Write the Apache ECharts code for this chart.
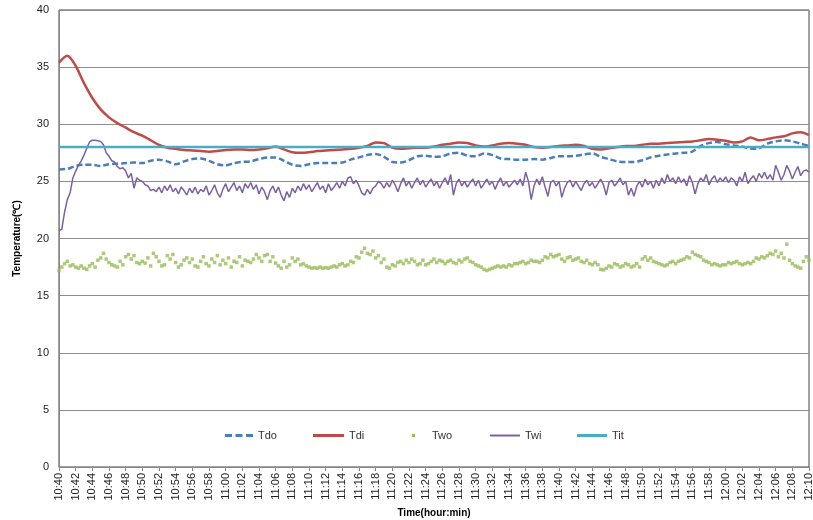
<!DOCTYPE html>
<html>
<head>
<meta charset="utf-8">
<script src="https://cdn.jsdelivr.net/npm/echarts@6/dist/echarts.min.js"></script>
<style>
html,body{margin:0;padding:0;background:#fff;}
#chart{width:813px;height:520px;}
</style>
</head>
<body>
<div id="chart"></div>
<script>
// x tick labels, every 2 minutes
const tickLabels = ['10:40','10:42','10:44','10:46','10:48','10:50','10:52','10:54','10:56','10:58',
  '11:00','11:02','11:04','11:06','11:08','11:10','11:12','11:14','11:16','11:18',
  '11:20','11:22','11:24','11:26','11:28','11:30','11:32','11:34','11:36','11:38',
  '11:40','11:42','11:44','11:46','11:48','11:50','11:52','11:54','11:56','11:58',
  '12:00','12:02','12:04','12:06','12:08','12:10'];

// sampling steps (minutes after 10:40)
const stepSmooth = 1;      // Tdo, Tdi
const stepNoisy = 1 / 3;   // Twi, Two (20 s)

// Tdi, one value per minute
const tdi = [35.4,36.0,35.1,33.6,32.3,31.3,30.6,30.1,29.7,29.3,
  29.0,28.6,28.2,27.95,27.85,27.75,27.7,27.65,27.6,27.65,
  27.75,27.8,27.8,27.75,27.8,27.9,28.05,27.8,27.55,27.5,
  27.55,27.65,27.7,27.75,27.8,27.85,27.95,28.1,28.4,28.35,
  27.95,27.85,27.9,27.95,27.95,28.05,28.2,28.3,28.4,28.35,
  28.15,28.05,28.15,28.3,28.35,28.3,28.2,28.0,27.95,28.0,
  28.1,28.15,28.2,28.1,27.85,27.8,27.9,28.0,28.1,28.1,
  28.2,28.3,28.3,28.35,28.4,28.45,28.5,28.6,28.7,28.65,
  28.55,28.4,28.5,28.85,28.6,28.7,28.85,28.95,29.2,29.3,
  29.05];

// Tdo, one value per minute
const tdo = [26.05,26.1,26.35,26.45,26.45,26.35,26.5,26.55,26.6,26.65,
  26.6,26.8,26.9,26.75,26.5,26.75,26.95,27.0,26.8,26.5,
  26.4,26.6,26.7,26.75,26.95,27.1,27.1,26.8,26.45,26.35,
  26.5,26.6,26.6,26.6,26.65,26.9,27.1,27.3,27.4,27.15,
  26.7,26.65,26.85,27.2,27.25,27.15,27.2,27.45,27.5,27.25,
  27.2,27.45,27.3,27.0,26.95,26.9,26.9,26.95,26.9,27.05,
  27.2,27.2,27.25,27.35,27.45,27.15,26.95,26.75,26.7,26.7,
  26.85,27.1,27.25,27.35,27.45,27.5,27.6,28.1,28.35,28.45,
  28.25,28.15,28.05,27.85,27.9,28.3,28.5,28.6,28.5,28.3,
  28.1];

// Twi, one value per 20 s
const twi = [20.7,20.8,22.3,23.4,24.0,25.3,25.9,26.4,26.8,27.3,27.9,28.45,28.6,28.6,28.55,
  28.5,28.2,27.5,27.2,26.8,26.7,26.3,26.1,26.2,25.9,25.3,25.7,24.4,25.3,25.1,
  25.0,24.7,24.6,24.2,24.3,24.1,24.5,24.0,24.6,24.2,24.7,24.1,24.4,23.9,24.5,
  24.2,23.8,24.4,24.0,24.5,23.9,24.3,24.1,24.6,23.8,24.2,24.7,24.0,23.6,24.3,
  24.8,24.1,24.5,24.9,24.2,24.6,24.0,24.8,24.4,24.9,24.3,24.7,23.9,24.5,24.1,
  23.4,24.2,24.6,24.0,24.5,23.8,23.3,24.1,23.6,24.4,24.0,24.6,24.2,24.8,24.3,
  24.7,24.1,24.5,24.9,24.3,24.6,24.0,24.8,24.2,24.5,24.9,24.4,25.0,24.6,25.3,
  25.4,24.8,25.1,24.6,24.0,23.8,24.3,23.9,24.4,24.6,25.0,24.8,24.4,24.9,24.5,
  25.1,24.7,24.1,24.8,25.3,24.6,25.0,24.4,24.9,25.3,24.7,25.1,24.5,24.9,25.2,
  24.6,25.0,24.4,24.9,25.3,24.7,25.6,23.8,24.8,25.2,24.6,25.0,24.5,24.9,25.2,
  24.6,25.1,24.4,24.8,25.2,24.7,25.0,24.3,24.9,25.3,24.6,25.0,24.5,24.8,25.1,
  24.7,25.2,24.6,25.8,25.0,23.4,24.6,25.2,24.7,25.4,24.5,23.7,24.9,25.1,24.6,
  25.0,23.6,24.4,24.9,25.1,24.5,25.0,24.6,24.2,24.8,25.1,24.6,24.9,24.4,24.8,
  25.2,24.7,23.8,24.9,25.1,24.6,24.9,25.3,24.7,25.0,23.8,24.4,23.7,24.6,25.0,
  24.5,25.2,24.7,25.0,24.4,25.1,24.6,25.3,24.8,25.6,25.0,25.3,24.8,25.4,24.9,
  25.2,24.6,25.5,24.9,23.9,24.8,25.3,25.0,25.6,24.7,25.2,25.5,24.9,25.3,25.0,
  25.4,24.9,25.3,25.1,24.6,25.4,25.0,25.8,24.8,25.2,25.5,25.0,25.7,25.3,25.8,
  25.2,25.6,25.1,26.4,25.8,25.1,25.6,26.4,25.9,25.2,25.8,26.3,25.5,25.9,26.0,
  25.8];

// Two, one value per 20 s
const two = [17.2,17.5,17.8,18.0,17.6,17.7,17.5,17.4,17.6,17.4,17.3,17.6,17.8,17.5,18.1,
  18.3,18.7,18.2,17.9,17.7,17.6,17.5,18.0,17.7,18.4,18.6,18.2,18.5,17.9,17.8,
  18.0,17.85,18.3,17.6,18.7,18.4,18.0,17.6,17.7,18.5,18.2,18.6,17.9,17.5,17.7,
  18.1,18.3,17.9,18.2,17.6,17.5,18.0,18.4,17.8,17.6,18.2,17.9,18.5,17.7,18.1,
  17.8,18.3,17.5,18.0,17.9,18.4,17.6,18.1,18.0,17.9,18.2,18.6,18.3,18.0,18.5,
  18.6,18.0,18.4,17.85,17.6,17.4,18.0,17.5,17.7,18.3,18.0,18.2,17.7,17.8,17.6,
  17.5,17.4,17.45,17.4,17.5,17.4,17.45,17.4,17.5,17.6,17.5,17.7,17.8,17.6,17.7,
  18.0,17.9,18.4,18.3,18.8,19.15,18.7,18.6,18.9,18.3,18.5,17.9,18.2,17.5,17.4,
  17.7,17.6,17.9,18.0,17.8,18.1,17.9,18.2,18.0,17.7,17.8,18.1,17.7,17.8,18.0,
  18.2,17.9,18.1,18.0,17.8,18.0,18.1,17.9,17.8,18.1,17.95,18.2,18.3,18.0,17.9,
  17.7,17.6,17.5,17.3,17.2,17.3,17.4,17.5,17.6,17.5,17.6,17.5,17.7,17.6,17.8,
  17.8,17.9,18.0,17.8,17.9,18.1,18.0,18.0,17.9,18.1,18.4,18.3,18.6,18.4,18.5,
  18.6,18.2,18.0,18.3,18.4,18.1,18.2,18.3,18.0,17.9,18.1,17.8,17.7,17.9,17.7,
  17.3,17.25,17.4,17.6,17.5,17.8,17.7,17.5,17.6,17.8,17.7,17.5,17.6,17.8,17.5,
  18.2,18.4,18.1,18.3,18.0,17.9,17.8,17.7,17.6,17.7,17.9,18.0,17.8,18.0,18.1,
  18.2,18.4,18.3,18.8,18.6,18.5,18.4,18.1,18.0,17.9,17.7,17.8,17.7,17.6,17.7,
  17.7,17.9,17.8,17.9,18.0,17.8,17.7,17.8,17.9,17.8,18.0,18.3,18.2,18.4,18.3,
  18.5,18.7,18.6,18.9,18.4,18.7,18.3,19.5,18.1,17.8,17.6,17.5,17.4,18.0,18.4,
  18.1];

// Tit: constant set point, start and end (minutes, value)
const titMinutes = [0, 90];
const titValues = [28, 28];

const toPairs = (vals, step) => vals.map((v, i) => [i * step, v]);

const FONT = 'Liberation Sans';
const chart = echarts.init(document.getElementById('chart'), null, {renderer: 'canvas'});
const legendText = {fontFamily: FONT, fontSize: 11, color: '#333'};
const DASH_ICON = 'path://M0,0h7v3h-7z M10.5,0h7v3h-7z M21,0h7v3h-7z';
const mkLegend = (name, left, icon, w, h, color, extraText) => ({
  data: [{name: name, icon: icon, itemStyle: {color: color, borderWidth: 0, opacity: 1}}],
  left: left, top: 430, padding: 0,
  itemWidth: w, itemHeight: h, textStyle: Object.assign({}, legendText, extraText || {})
});

chart.setOption({
  animation: false,
  backgroundColor: '#fff',
  grid: {left: 59, right: 4, top: 10, bottom: 53, show: true, borderColor: '#444', borderWidth: 1,
    outerBoundsMode: 'none'},
  legend: [
    mkLegend('Tdo', 225, DASH_ICON, 28, 3, '#4A7EBB'),
    mkLegend('Tdi', 313, 'rect', 31, 3, '#BE4B48'),
    mkLegend('Two', 412, 'rect', 3, 3, '#9BBB59', {padding: [0, 0, 0, 12]}),
    mkLegend('Twi', 490, 'rect', 30, 2, '#7D60A0'),
    mkLegend('Tit', 577, 'rect', 30, 3, '#4BACC6')
  ],
  xAxis: {
    type: 'value', min: 0, max: 90, interval: 2,
    name: 'Time(hour:min)', nameLocation: 'middle', nameGap: 41,
    nameTextStyle: {fontFamily: FONT, fontSize: 10, fontWeight: 'bold', color: '#000'},
    axisLine: {lineStyle: {color: '#888', width: 1}},
    axisTick: {show: true, length: 4, lineStyle: {color: '#888'}},
    axisLabel: {
      rotate: 90, margin: 6, fontFamily: FONT, fontSize: 11, color: '#222',
      formatter: v => tickLabels[Math.round(v / 2)] || ''
    },
    splitLine: {show: false}
  },
  yAxis: {
    type: 'value', min: 0, max: 40, interval: 5,
    name: 'Temperature(℃)', nameLocation: 'middle', nameGap: 37,
    nameTextStyle: {fontFamily: FONT, fontSize: 10, fontWeight: 'bold', color: '#000'},
    axisLine: {show: true, lineStyle: {color: '#888', width: 1}},
    axisTick: {show: false},
    axisLabel: {fontFamily: FONT, fontSize: 11, color: '#222', margin: 10},
    splitLine: {lineStyle: {color: '#8c8c8c', width: 1}}
  },
  series: [
    {name: 'Tdo', type: 'line', data: toPairs(tdo, stepSmooth), symbol: 'none', smooth: 0.3,
      lineStyle: {color: '#4A7EBB', width: 2.5, type: [6, 3]}, itemStyle: {color: '#4A7EBB'}},
    {name: 'Tdi', type: 'line', data: toPairs(tdi, stepSmooth), symbol: 'none', smooth: 0.3,
      lineStyle: {color: '#BE4B48', width: 2.5}, itemStyle: {color: '#BE4B48'}},
    {name: 'Two', type: 'scatter', data: toPairs(two, stepNoisy), symbol: 'rect', symbolSize: 3.5,
      itemStyle: {color: '#9BBB59'}},
    {name: 'Twi', type: 'line', data: toPairs(twi, stepNoisy), symbol: 'none',
      lineStyle: {color: '#7D60A0', width: 1.5}, itemStyle: {color: '#7D60A0'}},
    {name: 'Tit', type: 'line', data: titMinutes.map((m, i) => [m, titValues[i]]), symbol: 'none',
      lineStyle: {color: '#4BACC6', width: 2.5}, itemStyle: {color: '#4BACC6'}}
  ]
});
</script>
</body>
</html>
